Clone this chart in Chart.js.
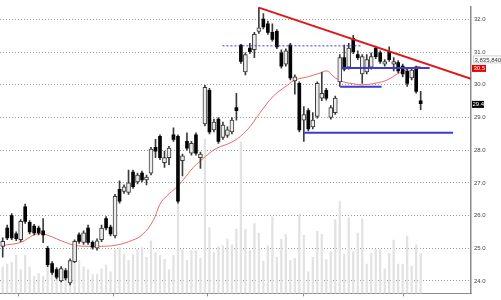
<!DOCTYPE html>
<html><head><meta charset="utf-8">
<script src="https://cdn.jsdelivr.net/npm/chart.js@4.4.0/dist/chart.umd.min.js"></script>
<style>html,body{margin:0;padding:0;background:#fff;overflow:hidden}canvas{display:block}</style>
</head><body>
<canvas id="c" width="501" height="300"></canvas>
<script>
// ---- data ----
const opens  = [25.06,25.62,26.00,25.44,25.26,26.27,25.79,25.68,25.62,25.53,25.00,24.53,24.35,24.00,24.32,23.94,24.59,25.41,25.18,25.62,25.18,25.00,25.26,25.91,25.65,25.38,26.80,26.74,26.71,27.33,27.03,27.30,27.09,27.30,28.09,28.42,27.62,27.77,28.47,28.42,27.68,28.27,27.91,28.47,27.77,28.80,29.83,28.62,28.95,28.39,28.45,28.56,29.30,31.21,30.39,31.12,31.07,31.63,32.01,31.86,31.60,31.63,30.98,30.63,31.21,30.12,30.04,28.92,29.21,28.71,29.03,29.59,29.83,29.00,29.15,30.09,30.83,30.54,31.42,30.92,30.33,30.39,30.54,31.12,30.98,30.63,31.01,30.63,30.68,30.57,30.42,30.21,30.54,29.51];
const highs  = [25.32,25.71,26.06,25.50,25.88,26.35,25.85,25.73,25.68,25.91,25.06,24.59,24.41,24.44,24.38,24.68,25.26,25.47,25.53,25.71,25.23,25.29,25.71,25.97,25.71,26.65,27.06,26.94,27.39,27.39,27.30,27.36,27.24,28.09,28.33,28.47,27.97,28.12,28.68,28.47,27.88,28.53,28.27,28.53,27.94,29.98,29.89,28.95,29.00,28.86,28.71,29.00,29.74,31.24,30.98,31.27,31.60,32.36,32.18,31.95,31.86,31.69,31.07,31.10,31.27,30.30,30.09,29.33,29.27,29.15,30.09,30.39,29.89,29.36,29.65,30.92,31.21,31.27,31.51,31.04,30.92,30.92,30.98,31.18,31.04,30.77,31.16,30.83,30.74,30.63,30.48,30.51,30.57,29.80];
const lows   = [24.73,25.26,25.26,25.23,25.20,25.76,25.44,25.41,25.41,25.17,24.44,24.20,24.06,23.97,24.03,23.88,24.56,25.15,25.12,25.12,24.97,24.94,25.20,25.56,25.38,25.32,26.38,26.68,26.65,26.83,26.97,27.03,26.94,27.24,27.77,27.71,27.47,27.56,28.27,26.38,27.21,28.00,27.85,27.85,27.44,28.74,28.50,28.56,28.21,28.33,28.39,28.50,28.92,30.65,30.30,30.95,30.83,31.57,31.71,31.54,31.33,31.10,30.51,30.57,30.15,29.71,28.56,28.27,28.59,28.65,28.98,29.51,29.53,28.95,29.09,29.95,30.42,30.48,30.95,30.77,30.04,30.33,30.48,30.80,30.65,30.57,30.71,30.42,30.36,30.24,29.95,30.15,29.74,29.24];
const closes = [25.21,25.32,25.32,25.29,25.82,25.82,25.50,25.47,25.47,25.41,24.50,24.26,24.12,24.38,24.09,24.62,25.21,25.21,25.47,25.18,25.03,25.23,25.62,25.62,25.44,26.59,26.44,26.88,27.00,26.88,27.24,27.09,27.18,28.03,27.97,27.77,27.77,28.06,28.33,26.44,27.83,28.06,28.21,27.91,27.88,29.92,28.56,28.86,28.27,28.77,28.62,28.92,29.21,30.71,30.92,31.01,31.54,31.74,31.77,31.60,31.39,31.16,30.57,31.04,30.21,30.24,28.62,29.09,28.65,28.92,30.04,29.74,29.59,29.30,29.59,30.83,30.48,31.12,31.01,30.83,30.86,30.77,30.86,30.86,30.71,30.71,30.77,30.71,30.42,30.33,30.04,30.45,29.80,29.42];
// volume in millions of shares
const volumes = [2.55,2.82,3.01,3.66,2.27,3.66,2.55,1.62,1.90,1.62,3.29,2.73,2.36,1.81,1.44,2.55,3.29,3.19,2.55,2.27,1.81,1.81,2.36,2.73,2.08,4.21,4.40,3.75,3.19,3.75,4.21,4.40,3.47,5.05,3.94,3.66,3.29,2.27,3.66,12.27,4.21,3.19,4.12,4.12,3.38,14.86,6.34,3.94,4.49,4.58,5.23,4.68,6.16,14.58,6.16,4.12,6.71,5.79,3.10,4.58,7.36,3.47,5.23,5.69,3.19,3.38,7.64,5.60,2.08,3.47,5.97,5.69,3.29,4.03,7.08,8.84,3.75,7.27,4.03,5.79,7.18,2.82,3.84,4.21,4.21,2.36,3.84,5.14,2.82,2.82,5.51,2.64,4.68,3.83584];
// moving average read at bar positions
const maIndex  = [0,4,7,9,13,16,19,22,25,28,31,33.5,35,36.5,38.8,40.2,42.4,43.9,45.5,47.5,51.3,54.4,57.3,60.2,63.3,65.1,67.8,70.7,72.2,74,75.8,78,80.2,83.4,85.6,87.8,89.6,91.4,93];
const maValues = [25.09,25.18,25.41,25.44,25.23,25.09,25.06,25.06,25.09,25.20,25.41,25.85,26.35,26.60,26.88,27.10,27.47,27.66,27.85,28.05,28.27,28.62,29.15,29.65,29.98,30.15,30.24,30.36,30.42,30.21,30.09,30.03,30.00,30.06,30.15,30.33,30.45,30.53,30.56];
const priceTicks = [24,25,26,27,28,29,30,31,32];
const monthTicks = [14.1,35.3,55.7,78];
// drawn studies
const trendIndex = [57, 104.2];
const trendValues = [32.36, 30.18];
const dottedIndex = [48.9, 80];
const dottedValue = 31.19;
const supportStart = [67.1, 75.3, 75.1];
const supportEnd   = [100.2, 95.0, 84.3];
const supportValue = [28.53, 30.51, 29.94];
const flagValues = [30.5, 29.4];

const idx = opens.map((_, i) => i);
const upIdx = idx.filter(i => closes[i] >= opens[i]);
const dnIdx = idx.filter(i => closes[i] < opens[i]);

const datasets = [
  { type:'bar', label:'volume', yAxisID:'v', order:10, grouped:false,
    data: idx.map(i => ({x:i, y:volumes[i]})),
    backgroundColor:'#e2e2e2', barThickness:1.6 },
  { type:'line', label:'ma', yAxisID:'y', order:5,
    data: maIndex.map((x,k) => ({x, y:maValues[k]})),
    borderColor:'#e86868', borderWidth:1, pointRadius:0, tension:0.4 },
  { type:'bar', label:'wick', yAxisID:'y', order:4, grouped:false,
    data: idx.map(i => ({x:i, y:[lows[i], highs[i]]})),
    backgroundColor:'#3c3c3c', barThickness:1 },
  { type:'bar', label:'up', yAxisID:'y', order:3, grouped:false,
    data: upIdx.map(i => ({x:i, y:[opens[i], closes[i]]})),
    backgroundColor:'#ececec', borderColor:'#3a3a3a', borderWidth:1, borderSkipped:false, barThickness:4 },
  { type:'bar', label:'down', yAxisID:'y', order:3, grouped:false,
    data: dnIdx.map(i => ({x:i, y:[opens[i], closes[i]]})),
    backgroundColor:'#050505', barThickness:3 },
  { type:'line', label:'dotted', yAxisID:'y', order:2,
    data: dottedIndex.map(x => ({x, y:dottedValue})),
    borderColor:'#3a3ad8', borderWidth:1, borderDash:[2,2], pointRadius:0 },
];
supportStart.forEach((s, k) => {
  datasets.push({ type:'line', label:'support'+k, yAxisID:'y', order:2,
    data:[{x:s, y:supportValue[k]}, {x:supportEnd[k], y:supportValue[k]}],
    borderColor:'#3c3cd0', borderWidth:2, pointRadius:0 });
});
datasets.push({ type:'line', label:'trend', yAxisID:'y', order:1,
  data: trendIndex.map((x,k) => ({x, y:trendValues[k]})),
  borderColor:'#e01818', borderWidth:2, pointRadius:0 });

const flagPlugin = {
  id:'flags',
  afterDraw(chart){
    const {ctx, chartArea} = chart;
    const y = chart.scales.y;
    const x0 = chartArea.right + 1;
    ctx.save();
    ctx.font = '6px "Liberation Sans", Arial, sans-serif';
    ctx.textBaseline = 'middle';
    ctx.textAlign = 'left';
    const yr = y.getPixelForValue(flagValues[0]);
    // volume readout above the red flag
    ctx.fillStyle = '#ffffff';
    ctx.fillRect(x0 + 1, yr - 13, 31, 8);
    ctx.strokeStyle = '#cfcfcf'; ctx.lineWidth = 1;
    ctx.strokeRect(x0 + 1.5, yr - 12.5, 31, 7);
    ctx.fillStyle = '#333';
    ctx.fillText(Math.round(volumes[volumes.length-1]*1e6).toLocaleString('en-US'), x0 + 2.5, yr - 8.5);
    ctx.fillStyle = '#e30000';
    ctx.fillRect(x0, yr - 3.5, 14, 7);
    ctx.fillStyle = '#ffffff';
    ctx.fillText(flagValues[0].toFixed(1), x0 + 1.5, yr + 0.3);
    const yb = y.getPixelForValue(flagValues[1]);
    ctx.fillStyle = '#000000';
    ctx.fillRect(x0, yb - 3.5, 12, 7);
    ctx.fillStyle = '#ffffff';
    ctx.fillText(flagValues[1].toFixed(1), x0 + 0.5, yb + 0.3);
    ctx.restore();
  }
};

new Chart(document.getElementById('c'), {
  type:'bar',
  data:{ datasets },
  plugins:[flagPlugin],
  options:{
    responsive:false, animation:false, devicePixelRatio:1,
    layout:{ padding:0 },
    plugins:{ legend:{display:false}, tooltip:{enabled:false} },
    scales:{
      x:{ type:'linear', position:'bottom', min:-0.6, max:104.2, offset:false,
          afterBuildTicks: s => { s.ticks = monthTicks.map(v => ({value:v})); },
          afterFit: s => { s.height = 2; },
          ticks:{ display:false },
          grid:{ display:true, drawOnChartArea:false, drawTicks:true, tickLength:3, color:'#8a8a8a', lineWidth:1 },
          border:{ display:true, color:'#8a8a8a', width:1 } },
      y:{ type:'linear', position:'right', min:23.62, max:32.39,
          afterBuildTicks: s => { s.ticks = priceTicks.map(v => ({value:v})); },
          afterFit: s => { s.width = 30; },
          ticks:{ callback: v => Number(v).toFixed(1), color:'#444', padding:3,
                  font:{ size:6, family:'"Liberation Sans", Arial, sans-serif' } },
          grid:{ color:'#9c9c9c', lineWidth:1, drawTicks:false },
          border:{ display:true, color:'#8a8a8a', width:1.5, dash:[1,2] } },
      v:{ type:'linear', display:false, min:0, max:27.6 }
    }
  }
});
</script>
</body></html>
